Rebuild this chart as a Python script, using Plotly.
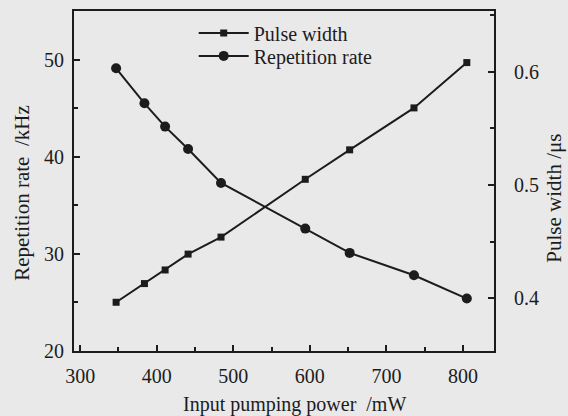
import plotly.graph_objects as go

power_mw = [347, 384, 411, 441, 484, 594, 652, 736, 805]
pulse_width_us = [0.3965, 0.413, 0.425, 0.439, 0.454, 0.505, 0.531, 0.568, 0.608]
rep_rate_khz = [49.1, 45.5, 43.1, 40.8, 37.3, 32.6, 30.1, 27.8, 25.4]

x_ticks = [300, 400, 500, 600, 700, 800]
y_ticks = [20, 30, 40, 50]
y2_ticks = [0.4, 0.5, 0.6]

ink = "#1c1c1c"
bg = "#e9e9e9"
font_family = "Liberation Serif"
fs = 20

fig = go.Figure()
fig.add_trace(go.Scatter(
    x=power_mw, y=pulse_width_us, name="Pulse width", yaxis="y2",
    mode="lines+markers", line=dict(color=ink, width=2),
    marker=dict(symbol="square", size=7, color=ink), legend="legend",
))
fig.add_trace(go.Scatter(
    x=power_mw, y=rep_rate_khz, name="Repetition rate", yaxis="y",
    mode="lines+markers", line=dict(color=ink, width=2),
    marker=dict(symbol="circle", size=10, color=ink), legend="legend2",
))

axis_common = dict(
    showgrid=False, zeroline=False, showline=True, linecolor=ink, linewidth=2,
    ticks="inside", ticklen=6, tickwidth=2, tickcolor=ink,
    tickfont=dict(family=font_family, size=fs, color=ink),
)

leg_common = dict(
    xanchor="left", yanchor="middle", bgcolor="rgba(0,0,0,0)",
    font=dict(family=font_family, size=fs, color=ink), itemwidth=50,
)

fig.update_layout(
    width=568, height=416,
    margin=dict(l=74, r=74, t=9, b=65),
    paper_bgcolor=bg, plot_bgcolor=bg,
    showlegend=True,
    legend=dict(x=0.285, y=0.935, **leg_common),
    legend2=dict(x=0.285, y=0.868, **leg_common),
    xaxis=dict(
        range=[292, 840.5], tickvals=x_ticks, mirror=True, ticklabelstandoff=6,
        minor=dict(dtick=50, ticks="inside", ticklen=4, tickcolor=ink, tickwidth=2),
        **axis_common,
    ),
    yaxis=dict(
        range=[20, 55], tickvals=y_ticks, ticklabelstandoff=4,
        minor=dict(dtick=5, ticks="inside", ticklen=4, tickcolor=ink, tickwidth=2),
        **axis_common,
    ),
    yaxis2=dict(
        range=[0.3535, 0.6535], tickvals=y2_ticks, overlaying="y", side="right",
        tickformat=".1f", ticklabelstandoff=14,
        minor=dict(dtick=0.05, ticks="inside", ticklen=4, tickcolor=ink, tickwidth=2),
        **axis_common,
    ),
    annotations=[
        dict(text="Input pumping power  /mW", xref="paper", yref="paper",
             x=0.525, y=-0.158, xanchor="center", yanchor="middle", showarrow=False,
             font=dict(family=font_family, size=fs, color=ink)),
        dict(text="Repetition rate  /kHz", xref="paper", yref="paper",
             x=-0.124, y=0.465, xanchor="center", yanchor="middle", showarrow=False,
             textangle=-90, font=dict(family=font_family, size=21, color=ink)),
        dict(text="Pulse width /μs", xref="paper", yref="paper",
             x=1.142, y=0.45, xanchor="center", yanchor="middle", showarrow=False,
             textangle=-90, font=dict(family=font_family, size=21, color=ink)),
    ],
)

fig.write_html("out.html")
